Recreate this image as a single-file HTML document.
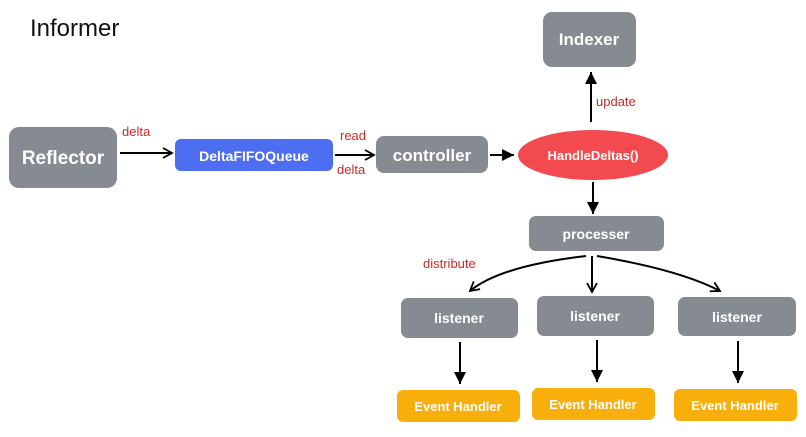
<!DOCTYPE html>
<html><head><style>
body{margin:0;background:#fff;}
svg text{font-family:"Liberation Sans",sans-serif;}
</style></head><body>
<svg width="806" height="432" viewBox="0 0 806 432" xmlns="http://www.w3.org/2000/svg">
<defs>
<marker id="o" markerWidth="12" markerHeight="12" refX="10" refY="6" orient="auto" markerUnits="userSpaceOnUse"><path d="M1,1 L10,6 L1,11" fill="none" stroke="#000" stroke-width="1.8"/></marker>
<marker id="f" markerWidth="14" markerHeight="14" refX="12" refY="7" orient="auto" markerUnits="userSpaceOnUse"><path d="M0,1 L12,7 L0,13 Z" fill="#000"/></marker>
</defs>
<text x="30" y="36" font-size="24" fill="#111">Informer</text>
<g fill="#868b91">
<rect x="9" y="127" width="108" height="61" rx="10"/>
<rect x="376" y="136" width="112" height="37" rx="8"/>
<rect x="543" y="12" width="93" height="55" rx="9"/>
<rect x="529" y="216" width="135" height="35" rx="7"/>
<rect x="401" y="298" width="117" height="40" rx="7"/>
<rect x="537" y="296" width="117" height="40" rx="7"/>
<rect x="678" y="297" width="118" height="39" rx="7"/>
</g>
<rect x="175" y="139" width="158" height="32" rx="6" fill="#4e6ef2"/>
<ellipse cx="593" cy="155" rx="75" ry="25" fill="#f24a4f"/>
<g fill="#f8ae0b">
<rect x="397" y="390" width="123" height="32" rx="6"/>
<rect x="532" y="388" width="123" height="32" rx="6"/>
<rect x="674" y="389" width="123" height="32" rx="6"/>
</g>
<g fill="#fff" font-weight="bold" text-anchor="middle">
<text x="63" y="164" font-size="19">Reflector</text>
<text x="254" y="161" font-size="14">DeltaFIFOQueue</text>
<text x="432" y="161" font-size="17">controller</text>
<text x="593" y="160" font-size="13">HandleDeltas()</text>
<text x="589" y="45" font-size="17">Indexer</text>
<text x="596" y="239" font-size="14">processer</text>
<text x="459" y="323" font-size="14">listener</text>
<text x="595" y="321" font-size="14">listener</text>
<text x="737" y="322" font-size="14">listener</text>
<text x="458" y="411" font-size="13">Event Handler</text>
<text x="593" y="409" font-size="13">Event Handler</text>
<text x="735" y="410" font-size="13">Event Handler</text>
</g>
<g stroke="#000" stroke-width="2" fill="none">
<line x1="120" y1="153" x2="172" y2="153" marker-end="url(#o)"/>
<line x1="335" y1="155" x2="374" y2="155" marker-end="url(#o)"/>
<line x1="490" y1="155" x2="514" y2="155" marker-end="url(#f)"/>
<line x1="591" y1="122" x2="591" y2="72" marker-end="url(#f)"/>
<line x1="593" y1="182" x2="593" y2="214" marker-end="url(#f)"/>
<path d="M586,256 Q500,266 470,291" marker-end="url(#o)"/>
<line x1="592" y1="256" x2="592" y2="292" marker-end="url(#o)"/>
<path d="M597,256 Q680,270 720,291" marker-end="url(#o)"/>
<line x1="460" y1="342" x2="460" y2="384" marker-end="url(#f)"/>
<line x1="597" y1="340" x2="597" y2="382" marker-end="url(#f)"/>
<line x1="738" y1="341" x2="738" y2="383" marker-end="url(#f)"/>
</g>
<g fill="#c92a2a" font-size="13">
<text x="122" y="136">delta</text>
<text x="340" y="140">read</text>
<text x="337" y="174">delta</text>
<text x="596" y="106">update</text>
<text x="423" y="268">distribute</text>
</g>
</svg>
</body></html>
